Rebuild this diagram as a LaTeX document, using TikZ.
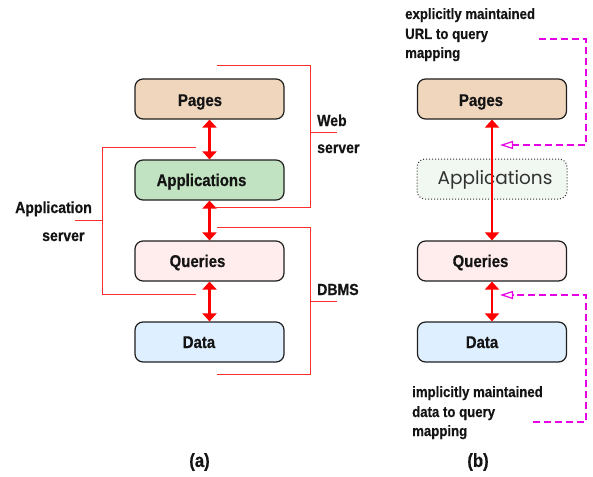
\documentclass[tikz,border=0pt]{standalone}
\usepackage{fontspec}
\setmainfont[FakeStretch=0.88, BoldFeatures={FakeBold=0.5}]{Liberation Sans}
\newfontfamily\geo{Poppins}
\usetikzlibrary{arrows.meta}
\definecolor{pagesc}{RGB}{239,214,189}
\definecolor{appsc}{RGB}{193,227,193}
\definecolor{queryc}{RGB}{255,237,237}
\definecolor{datac}{RGB}{222,240,255}
\definecolor{appbc}{RGB}{241,247,241}
\definecolor{mag}{RGB}{230,0,230}
\definecolor{brk}{RGB}{255,45,45}
\tikzset{
  box/.style={draw=black!88, line width=1.2pt, rounded corners=8pt, minimum width=149pt, minimum height=40pt, inner sep=0pt},
  boxtxt/.style={font=\fontsize{17}{20}\selectfont\bfseries, anchor=base, inner sep=0pt, text=black!92},
  lbl/.style={font=\fontsize{16}{19}\selectfont\bfseries, anchor=base west, inner sep=0pt, text=black!92},
  note/.style={font=\fontsize{15}{18}\selectfont\bfseries, anchor=base west, inner sep=0pt, text=black!92},
  captxt/.style={font=\fontsize{19}{22}\selectfont\bfseries, inner sep=0pt, text=black!92},
  rar/.style={draw=red, line width=2.6pt, arrows={Triangle[width=14pt,length=8pt]-Triangle[width=14pt,length=8pt]}},
  brack/.style={draw=brk, line width=0.9pt},
  magarr/.style={draw=mag, line width=1.2pt, dash pattern=on 7pt off 4pt, arrows={-Triangle[open,width=8pt,length=13pt]}}
}
\begin{document}
\begin{tikzpicture}[x=1pt,y=-1pt]
\useasboundingbox (0,0) rectangle (593,476);
% (a)
\node[box, fill=pagesc] (pa) at (209.5,99) {};
\node[box, fill=appsc] (aa) at (209.5,180) {};
\node[box, fill=queryc] (qa) at (209.5,261) {};
\node[box, fill=datac] (da) at (209.5,342) {};
\node[boxtxt] (pat) at (200,106) {Pages};
\node[boxtxt] (aat) at (201.5,186) {Applications};
\node[boxtxt] (qat) at (197.5,267) {Queries};
\node[boxtxt] (dat) at (199,348) {Data};
\draw[rar] (pa.south) -- (aa.north);
\draw[rar] (aa.south) -- (qa.north);
\draw[rar] (qa.south) -- (da.north);
% brackets
\draw[brack] (217,65) -- (310,65) -- (310,207) -- (215,207);
\draw[brack] (310,132) -- (337,132);
\draw[brack] (217,227) -- (310,227) -- (310,374) -- (217,374);
\draw[brack] (310,301) -- (337,301);
\draw[brack] (196,147) -- (102,147) -- (102,294) -- (196,294);
\draw[brack] (75,220) -- (102,220);
\node[lbl] (web1) at (317,126) {Web};
\node[lbl] (web2) at (317,153) {server};
\node[lbl] (dbms) at (317,295) {DBMS};
\node[lbl] (as1) at (15,213) {Application};
\node[lbl] (as2) at (42,241) {server};
% (b)
\node[box, fill=pagesc] (pb) at (492,99) {};
\node[box, draw=black!80, line width=1pt, dotted, fill=appbc, minimum width=150pt] (ab) at (492,179) {};
\node[box, fill=queryc] (qb) at (492,261) {};
\node[box, fill=datac] (db) at (492,342) {};
\node[boxtxt] (pbt) at (481,106) {Pages};
\node[anchor=base, inner sep=0pt, font=\geo\fontsize{18.5}{22}\selectfont, text=black!80] (abt) at (495,184) {Applications};
\node[boxtxt] (qbt) at (480.5,267) {Queries};
\node[boxtxt] (dbt) at (482,348) {Data};
\draw[rar] (pb.south) -- (qb.north);
\draw[rar] (qb.south) -- (db.north);
\coordinate (m1) at (500,145);
\coordinate (m2) at (500,295);
\draw[magarr] (539,39) -- (586,39) -- (586,145) -- (m1);
\draw[magarr] (533,422) -- (586,422) -- (586,295) -- (m2);
\node[note] (e1) at (405,19) {explicitly maintained};
\node[note] (e2) at (405,39) {URL to query};
\node[note] (e3) at (405,58) {mapping};
\node[note] (i1) at (412,397) {implicitly maintained};
\node[note] (i2) at (412,417) {data to query};
\node[note] (i3) at (412,436) {mapping};
\node[captxt] (capa) at (199.5,462) {(a)};
\node[captxt] (capb) at (478,462) {(b)};
\end{tikzpicture}
\end{document}
